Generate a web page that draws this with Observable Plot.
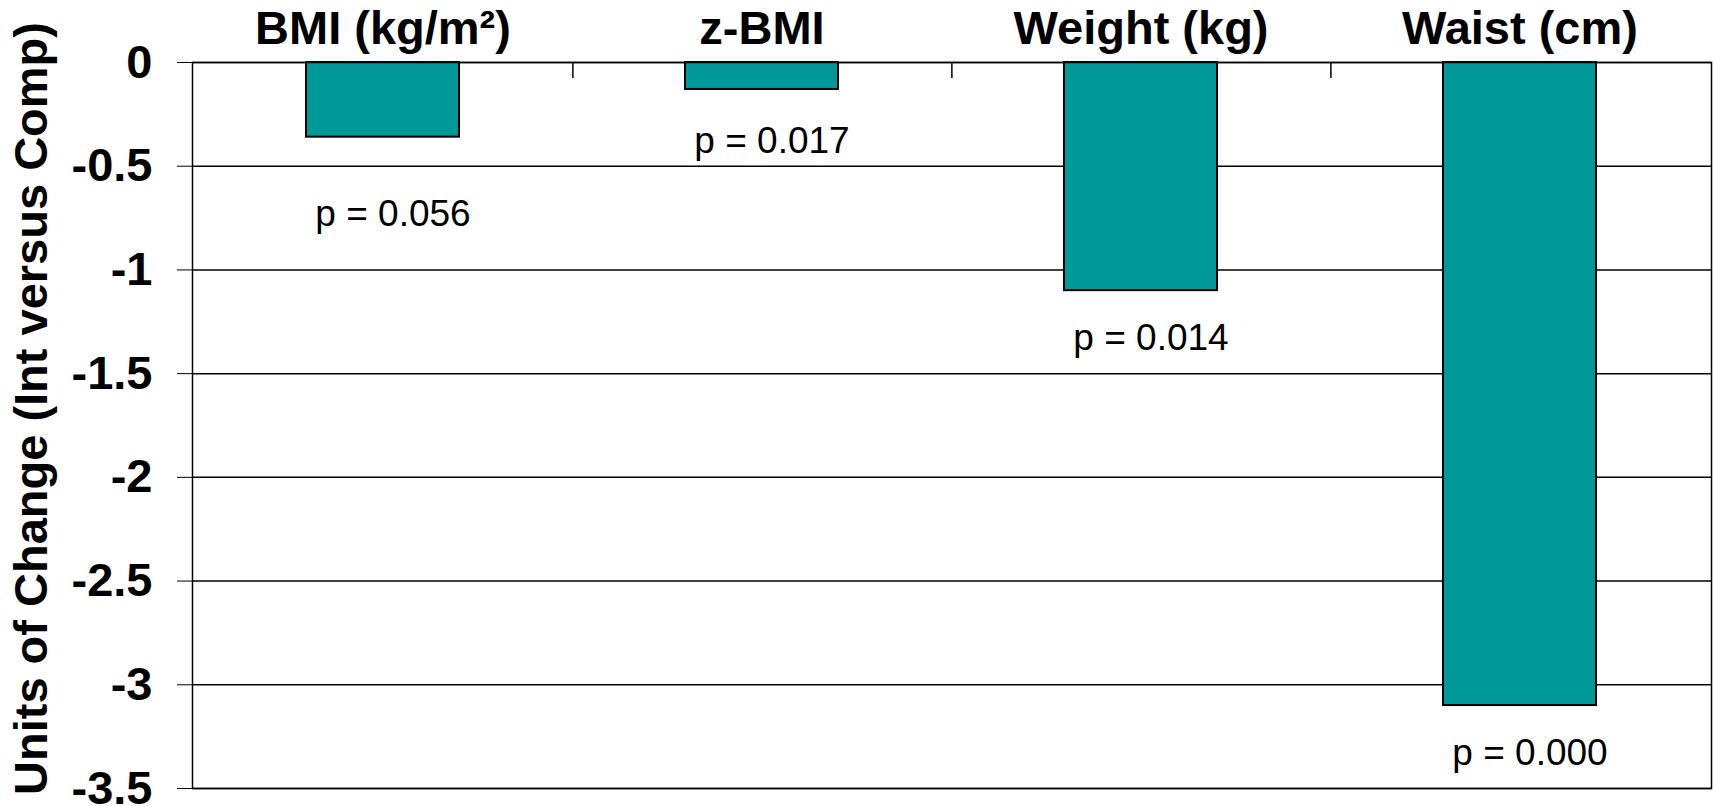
<!DOCTYPE html>
<html>
<head>
<meta charset="utf-8">
<script src="https://cdn.jsdelivr.net/npm/d3@7"></script>
<script src="https://cdn.jsdelivr.net/npm/@observablehq/plot@0.6"></script>
<style>
  html, body { margin: 0; padding: 0; background: #fff; }
  #chart svg { display: block; }
</style>
</head>
<body>
<div id="chart"></div>
<script>
// ---- data ----
const categories = ["BMI (kg/m²)", "z-BMI", "Weight (kg)", "Waist (cm)"];
const changes = [-0.36, -0.13, -1.10, -3.10];
const pLabels = ["p = 0.056", "p = 0.017", "p = 0.014", "p = 0.000"];
const pLabelY = [-0.73, -0.38, -1.33, -3.33];
const yTicks = [0, -0.5, -1, -1.5, -2, -2.5, -3, -3.5];
const yLabel = "Units of Change (Int versus Comp)";

const data = categories.map((c, i) => ({cat: c, value: changes[i], p: pLabels[i], py: pLabelY[i]}));

// ---- layout ----
const W = 1713, H = 806;
const mTop = 62, mBottom = 18, mLeft = 192, mRight = 2;
const step = (W - mLeft - mRight) / categories.length;
const pxPerUnit = (H - mTop - mBottom) / 3.5;
const teal = "#009999";

const chart = Plot.plot({
  width: W,
  height: H,
  marginTop: mTop,
  marginBottom: mBottom,
  marginLeft: mLeft,
  marginRight: mRight,
  style: {fontFamily: "'Liberation Sans', Arial, Helvetica, sans-serif", fontWeight: "bold", fontSize: "47px", color: "black", background: "white"},
  x: {domain: categories, paddingInner: 0.595, paddingOuter: 0.2975, axis: null},
  y: {domain: [-3.5, 0], axis: null},
  marks: [
    Plot.gridY(yTicks, {stroke: "black", strokeOpacity: 1, strokeWidth: 1.5}),
    Plot.barY(data, {x: "cat", y: "value", fill: teal, stroke: "black", strokeWidth: 2}),
    Plot.frame({stroke: "black", strokeWidth: 1.5}),
    Plot.ruleX(categories.slice(0, categories.length - 1), {x: d => d, dx: step / 2, y1: 0, y2: -16 / pxPerUnit, stroke: "black", strokeWidth: 1.5}),
    Plot.axisY({
      ticks: yTicks,
      tickFormat: d => String(d),
      tickSize: 15,
      tickPadding: 25,
      tickStrokeWidth: 1.5,
      stroke: "black",
      fontSize: 47,
      fontWeight: "bold",
      label: null
    }),
    Plot.text([yLabel], {
      text: d => d,
      frameAnchor: "left",
      rotate: -90,
      textAnchor: "middle",
      lineAnchor: "middle",
      dx: -161,
      dy: -17,
      fontSize: 47,
      fontWeight: "bold",
      fill: "black"
    }),
    Plot.axisX({
      anchor: "top",
      tickSize: 0,
      tickPadding: 19,
      fontSize: 47,
      fontWeight: "bold",
      label: null
    }),
    Plot.text(data, {x: "cat", y: "py", text: "p", fontSize: 37, fontWeight: "normal", dx: 10, fill: "black"})
  ]
});
document.getElementById("chart").appendChild(chart);
</script>
</body>
</html>
